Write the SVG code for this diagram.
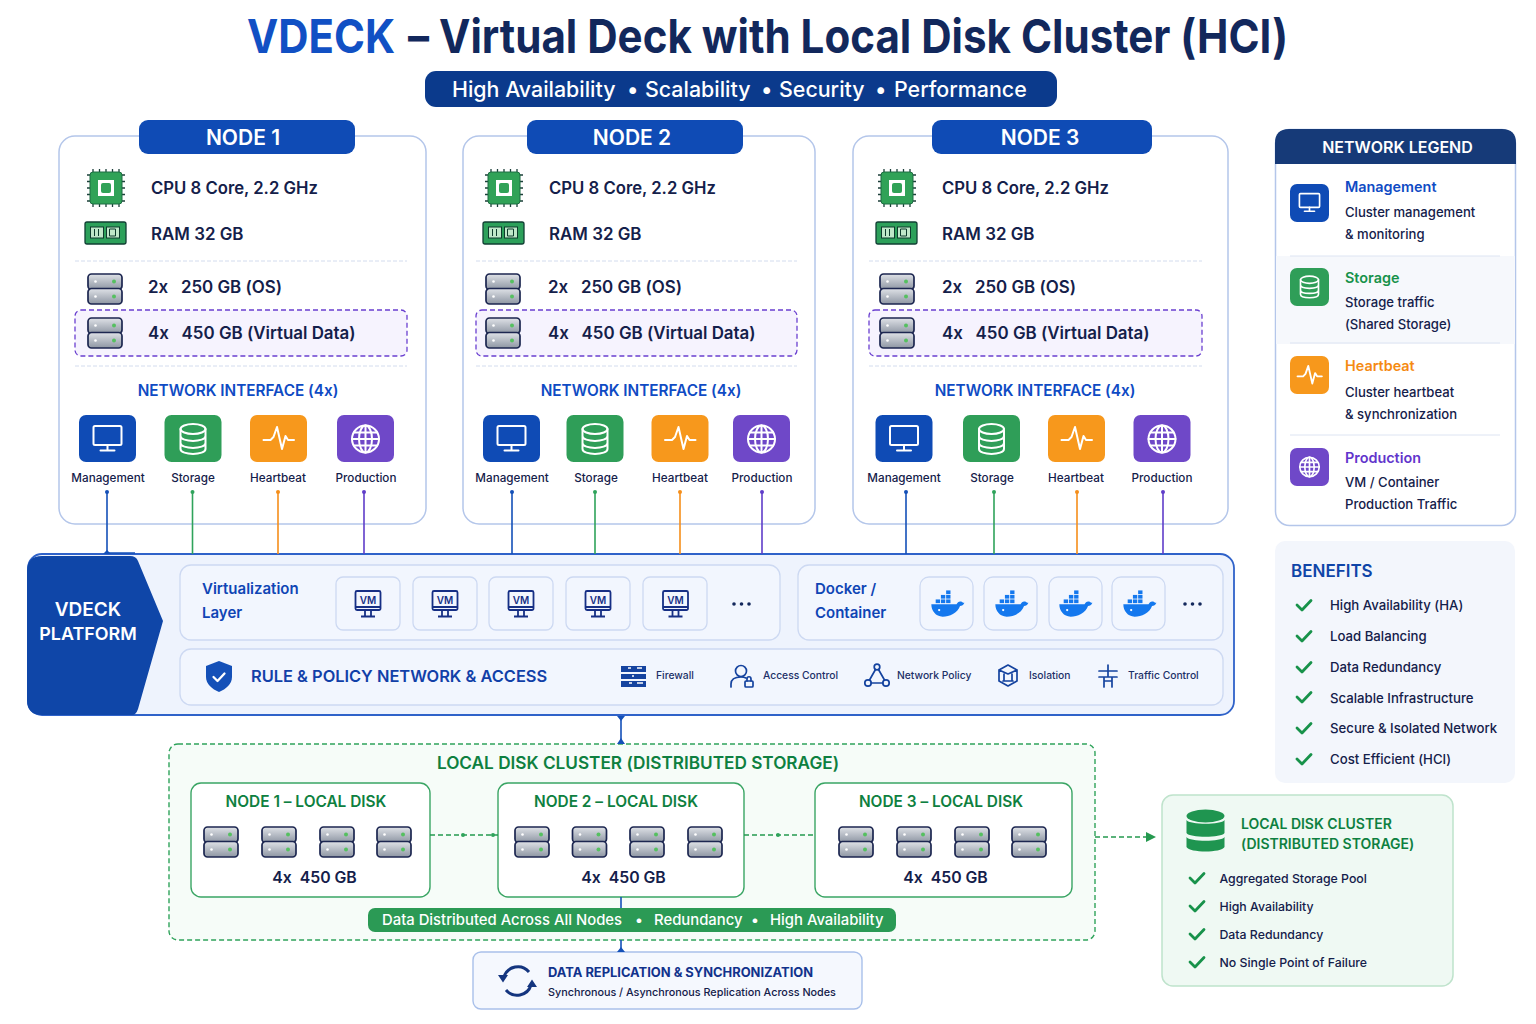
<svg xmlns="http://www.w3.org/2000/svg" width="1536" height="1024" viewBox="0 0 1536 1024">
<style>
text{font-family:Inter,"Liberation Sans",sans-serif;fill:#14204a;font-feature-settings:"calt" 0}
.card{fill:#fff;stroke:#b4c6ea;stroke-width:1.5}
.hd{fill:#0f4bb5}
.hdt{font-size:21px;font-weight:600;fill:#fff;text-anchor:middle}
.spec{font-size:16.700px;font-weight:600}
.spec2{font-size:16.900px;font-weight:600}
.sep{stroke:#d3dcee;stroke-width:1;stroke-dasharray:4 2}
.hl{fill:#f6f3fe;stroke:#6a3fd0;stroke-width:1.3;stroke-dasharray:5 3}
.ni{font-size:15.300px;font-weight:600;fill:#0f4bc4;text-anchor:middle}
.lab{font-size:11.700px;font-weight:500;text-anchor:middle}
.panel{fill:#f2f6fe;stroke:#cdd9f2;stroke-width:1.3}
.tile{fill:#f2f6fe;stroke:#cdd9f2;stroke-width:1.3}
.blue{font-size:15px;font-weight:600;fill:#0f45b5}
.pol{font-size:10.300px;font-weight:500;fill:#1c3068}
.dn{fill:#fff;stroke:#3aa564;stroke-width:1.4}
.dnt{font-size:15.400px;font-weight:600;fill:#0e8040;text-anchor:middle}
.cap{font-size:15.800px;font-weight:600;text-anchor:middle}
.lt{font-size:14.400px;font-weight:600}
.ld{font-size:13.100px;font-weight:500}
.ben{font-size:13.200px;font-weight:500}
.ben2{font-size:12.300px;font-weight:500}
.chk{fill:none;stroke:#17924a;stroke-width:2.800;stroke-linecap:round;stroke-linejoin:round}
.w{fill:none;stroke:#fff;stroke-linecap:round;stroke-linejoin:round}
.ic{fill:none;stroke:#15439f;stroke-width:1.700;stroke-linecap:round;stroke-linejoin:round}
.vm{fill:none;stroke:#162f85;stroke-width:1.800}
.sub{font-size:21.400px;font-weight:500;fill:#fff}
.band{font-size:14.850px;font-weight:500;fill:#fff}
</style>
<defs>
<g id="chip"><path d="M-13-19v38M-6.500-19v38M0-19v38M6.500-19v38M13-19v38M-19-13h38M-19-6.500h38M-19 0h38M-19 6.500h38M-19 13h38" stroke="#1c3f3a" stroke-width="1.300"/><rect x="-16" y="-16" width="32" height="32" rx="3" fill="#30a257" stroke="#1d6d42"/><rect x="-8" y="-8" width="16" height="16" fill="#fff"/><rect x="-5" y="-5" width="10" height="10" rx="2" fill="#30a257"/></g>
<g id="ram"><rect x="-20.500" y="-11" width="41" height="22" rx="2" fill="#2ca05a" stroke="#103f33" stroke-width="1.300"/><rect x="-15" y="-6" width="13" height="11" fill="#bfe8c9" stroke="#0d3b2c"/><rect x="1" y="-6" width="13" height="11" fill="#bfe8c9" stroke="#0d3b2c"/><path d="M-11-4v7M-7-4v7M4-4h6v7h-6z" stroke="#0d3b2c" fill="none"/></g>
<linearGradient id="dg" x1="0" y1="0" x2="0" y2="1"><stop offset="0" stop-color="#dfe2e7"/><stop offset="1" stop-color="#8e96a3"/></linearGradient>
<g id="disk"><rect x="-17" y="-15" width="34" height="15.500" rx="3.500" fill="url(#dg)" stroke="#1c2650" stroke-width="1.700"/><rect x="-17" y="-.500" width="34" height="15.500" rx="3.500" fill="url(#dg)" stroke="#1c2650" stroke-width="1.700"/><circle cx="-9.500" cy="-7.500" r="1.300" fill="#fff"/><circle cx="-9.500" cy="7.500" r="1.300" fill="#fff"/><circle cx="9" cy="-7.500" r="2" fill="#55c060"/><circle cx="9" cy="7.500" r="2" fill="#55c060"/></g>
<g id="mon"><rect x="-14" y="-13" width="28" height="19" rx="1.500" class="w"/><path d="M0 6v5M-7 11.500h14" class="w"/></g>
<g id="db"><ellipse cx="0" cy="-10" rx="12.500" ry="5" class="w"/><path d="M-12.500-10v20c0 6.500 25 6.500 25 0v-20M-12.500-3c0 6.500 25 6.500 25 0M-12.500 4c0 6.500 25 6.500 25 0" class="w"/></g>
<g id="pulse"><path d="M-15 1h7l3-3 3.500-10 5 22 3.500-13 2.500 4h6" class="w"/></g>
<g id="globe"><circle r="13.500" class="w"/><ellipse rx="6.500" ry="13.500" class="w"/><path d="M0-13.500v27M-13.500 0h27M-11.500-6.500h23M-11.500 6.500h23" class="w"/></g>
<g id="vm"><rect x="-12.500" y="-13" width="25" height="19" rx="1.500" class="vm" fill="#fff"/><path d="M-12.500 3h25M-3 6v6M3 6v6M-7 12.500h14" class="vm"/><text x="0" y="0" font-size="10" font-weight="600" text-anchor="middle" style="fill:#162f85">VM</text></g>
<g id="whale" fill="#1478ee" transform="scale(.87 .82)"><path d="M-18-2h29c1-3 3-4 5-3.500 2 .500 2 2 4 1.500-1 3-3 4-5 4C12 9 3 13-5 13c-8 0-13-7-13-15z"/><rect x="-13" y="-8" width="5" height="4.500"/><rect x="-7" y="-8" width="5" height="4.500"/><rect x="-1" y="-8" width="5" height="4.500"/><rect x="-7" y="-13.500" width="5" height="4.500"/><rect x="-1" y="-13.500" width="5" height="4.500"/><rect x="-1" y="-19" width="5" height="4.500"/><circle cx="-9" cy="5" r="1.300" fill="#fff"/></g>
<g id="check"><path d="M-7 0l5 5 9-9.500" class="chk"/></g>
<marker id="ta" viewBox="0 0 10 10" refX="8" refY="5" markerWidth="10" markerHeight="10" orient="auto" markerUnits="userSpaceOnUse"><path d="M0 0L10 5 0 10z" fill="#25994f"/></marker>
<g id="t-mgmt" stroke-width="2"><rect x="-28.500" y="-24" width="57" height="47" rx="7" fill="#0f4bb5"/><use href="#mon"/></g>
<g id="t-stor" stroke-width="2"><rect x="-28.500" y="-24" width="57" height="47" rx="7" fill="#2f9e58"/><use href="#db"/></g>
<g id="t-hb" stroke-width="2"><rect x="-28.500" y="-24" width="57" height="47" rx="7" fill="#f7981c"/><use href="#pulse"/></g>
<g id="t-prod" stroke-width="2"><rect x="-28.500" y="-24" width="57" height="47" rx="7" fill="#6f48c8"/><use href="#globe"/></g>
</defs>
<rect width="1536" height="1024" fill="#fff"/>

<g id="title">
<text x="247" y="53" font-size="47" font-weight="700" textLength="148" lengthAdjust="spacingAndGlyphs" style="fill:#1150c4">VDECK</text>
<text x="408" y="53" font-size="47" font-weight="700" textLength="880" lengthAdjust="spacingAndGlyphs" style="fill:#12285c">– Virtual Deck with Local Disk Cluster (HCI)</text>
<rect x="425" y="71" width="632" height="36" rx="11" fill="#0b3a8c"/>
<text class="sub" x="452" y="96.500">High Availability</text><text class="sub" x="627" y="96.500">•</text>
<text class="sub" x="645" y="96.500">Scalability</text><text class="sub" x="761" y="96.500">•</text>
<text class="sub" x="779" y="96.500">Security</text><text class="sub" x="875" y="96.500">•</text>
<text class="sub" x="894" y="96.500">Performance</text>
</g>

<g id="node1">
<rect class="card" x="59" y="136" width="367" height="388" rx="16"/>
<rect class="hd" x="139" y="120" width="216" height="34" rx="9"/><text class="hdt" x="243" y="145">NODE 1</text>
<use href="#chip" x="106" y="188"/><text class="spec" x="151" y="194">CPU 8 Core, 2.2 GHz</text>
<use href="#ram" x="105.500" y="233"/><text class="spec2" x="151" y="240">RAM 32 GB</text>
<path class="sep" d="M75 261H407M75 366H407"/>
<use href="#disk" x="105" y="289"/><text class="spec2" x="148" y="293" xml:space="preserve">2x   250 GB (OS)</text>
<rect class="hl" x="75" y="310" width="332" height="46" rx="6"/>
<use href="#disk" x="105" y="333"/><text class="spec2" x="148" y="339" xml:space="preserve">4x   450 GB (Virtual Data)</text>
<text class="ni" x="238" y="396">NETWORK INTERFACE (4x)</text>
<use href="#t-mgmt" x="107.500" y="439"/><use href="#t-stor" x="193" y="439"/><use href="#t-hb" x="278.500" y="439"/><use href="#t-prod" x="365.500" y="439"/>
<text class="lab" x="108" y="482">Management</text><text class="lab" x="193" y="482">Storage</text><text class="lab" x="278" y="482">Heartbeat</text><text class="lab" x="366" y="482">Production</text>
</g>
<g id="node2">
<rect class="card" x="463" y="136" width="352" height="388" rx="16"/>
<rect class="hd" x="527" y="120" width="216" height="34" rx="9"/><text class="hdt" x="632" y="145">NODE 2</text>
<use href="#chip" x="504" y="188"/><text class="spec" x="549" y="194">CPU 8 Core, 2.2 GHz</text>
<use href="#ram" x="503.500" y="233"/><text class="spec2" x="549" y="240">RAM 32 GB</text>
<path class="sep" d="M476 261H797M476 366H797"/>
<use href="#disk" x="503" y="289"/><text class="spec2" x="548" y="293" xml:space="preserve">2x   250 GB (OS)</text>
<rect class="hl" x="476" y="310" width="321" height="46" rx="6"/>
<use href="#disk" x="503" y="333"/><text class="spec2" x="548" y="339" xml:space="preserve">4x   450 GB (Virtual Data)</text>
<text class="ni" x="641" y="396">NETWORK INTERFACE (4x)</text>
<use href="#t-mgmt" x="511.500" y="439"/><use href="#t-stor" x="595" y="439"/><use href="#t-hb" x="680" y="439"/><use href="#t-prod" x="761.500" y="439"/>
<text class="lab" x="512" y="482">Management</text><text class="lab" x="596" y="482">Storage</text><text class="lab" x="680" y="482">Heartbeat</text><text class="lab" x="762" y="482">Production</text>
</g>
<g id="node3">
<rect class="card" x="853" y="136" width="375" height="388" rx="16"/>
<rect class="hd" x="932" y="120" width="220" height="34" rx="9"/><text class="hdt" x="1040" y="145">NODE 3</text>
<use href="#chip" x="897" y="188"/><text class="spec" x="942" y="194">CPU 8 Core, 2.2 GHz</text>
<use href="#ram" x="896.500" y="233"/><text class="spec2" x="942" y="240">RAM 32 GB</text>
<path class="sep" d="M869 261H1202M869 366H1202"/>
<use href="#disk" x="897" y="289"/><text class="spec2" x="942" y="293" xml:space="preserve">2x   250 GB (OS)</text>
<rect class="hl" x="869" y="310" width="333" height="46" rx="6"/>
<use href="#disk" x="897" y="333"/><text class="spec2" x="942" y="339" xml:space="preserve">4x   450 GB (Virtual Data)</text>
<text class="ni" x="1035" y="396">NETWORK INTERFACE (4x)</text>
<use href="#t-mgmt" x="904" y="439"/><use href="#t-stor" x="991.500" y="439"/><use href="#t-hb" x="1076.500" y="439"/><use href="#t-prod" x="1162" y="439"/>
<text class="lab" x="904" y="482">Management</text><text class="lab" x="992" y="482">Storage</text><text class="lab" x="1076" y="482">Heartbeat</text><text class="lab" x="1162" y="482">Production</text>
</g>

<g id="platform">
<rect x="28" y="554" width="1206" height="161" rx="14" fill="#eef3fd" stroke="#2f62c9" stroke-width="1.800"/>
<path d="M42 556H130q6 0 8 5L163 621 138 709q-2 6-6 6H42q-15 0-15-15V571q0-15 15-15z" fill="#0f46a8"/>
<text x="88" y="616" font-size="19" font-weight="600" text-anchor="middle" style="fill:#fff">VDECK</text>
<text x="88" y="640" font-size="17.900" font-weight="600" text-anchor="middle" style="fill:#fff">PLATFORM</text>
<rect class="panel" x="180" y="565" width="600" height="75" rx="11"/>
<text class="blue" x="202" y="594">Virtualization</text><text class="blue" x="202" y="618">Layer</text>
<rect class="tile" x="336" y="577" width="64" height="53" rx="7"/><rect class="tile" x="413" y="577" width="64" height="53" rx="7"/><rect class="tile" x="489" y="577" width="64" height="53" rx="7"/><rect class="tile" x="566" y="577" width="64" height="53" rx="7"/><rect class="tile" x="643" y="577" width="64" height="53" rx="7"/>
<use href="#vm" x="368" y="604"/><use href="#vm" x="445" y="604"/><use href="#vm" x="521" y="604"/><use href="#vm" x="598" y="604"/><use href="#vm" x="675.500" y="604"/>
<rect class="panel" x="798" y="565" width="425" height="75" rx="11"/>
<text class="blue" x="815" y="594">Docker /</text><text class="blue" x="815" y="618">Container</text>
<rect class="tile" x="920" y="577" width="53" height="53" rx="9"/><rect class="tile" x="984" y="577" width="53" height="53" rx="9"/><rect class="tile" x="1049" y="577" width="53" height="53" rx="9"/><rect class="tile" x="1112" y="577" width="53" height="53" rx="9"/>
<use href="#whale" x="947" y="606"/><use href="#whale" x="1011" y="606"/><use href="#whale" x="1075" y="606"/><use href="#whale" x="1139" y="606"/>
<g fill="#14285c"><circle cx="734" cy="604" r="1.800"/><circle cx="741.500" cy="604" r="1.800"/><circle cx="749" cy="604" r="1.800"/><circle cx="1185" cy="604" r="1.800"/><circle cx="1192.500" cy="604" r="1.800"/><circle cx="1200" cy="604" r="1.800"/></g>
<rect class="panel" x="180" y="649" width="1043" height="56" rx="11"/>
<path d="M219 661l13 5v11c0 7-6 12-13 15-7-3-13-8-13-15v-11z" fill="#1450b8"/><path d="M213.500 677l4 4 7-7.500" fill="none" stroke="#fff" stroke-width="2.300" stroke-linecap="round" stroke-linejoin="round"/>
<text x="251" y="682" font-size="16.400" font-weight="600" style="fill:#1140a8">RULE &amp; POLICY NETWORK &amp; ACCESS</text>
<g fill="#15439f"><rect x="621" y="666" width="25" height="6"/><rect x="621" y="674" width="25" height="5"/><rect x="621" y="681" width="25" height="6"/></g>
<path d="M628 668h3M637 668h5M632 676h2M629 683h3M637 683h6" stroke="#fff" stroke-width="1.500"/>
<text class="pol" x="656" y="679">Firewall</text>
<g class="ic"><circle cx="741" cy="671" r="5.500"/><path d="M731 687v-3c0-5 4-7 10-7 2 0 3 0 5 1"/><rect x="745" y="681" width="8" height="6" rx="1"/><path d="M747 681v-2c0-3 4-3 4 0v2"/></g>
<text class="pol" x="763" y="679">Access Control</text>
<g class="ic"><circle cx="877" cy="667" r="2.800"/><circle cx="868" cy="683" r="3.200"/><circle cx="886" cy="683" r="3.200"/><path d="M875.500 669.500l-6 10.500M878.500 669.500l6 10.500M871 683h12"/></g>
<text class="pol" x="897" y="679">Network Policy</text>
<g class="ic"><path d="M1008 665l9 5v11l-9 5-9-5v-11zM999 670l9 4 9-4M1004 674v7M1012 674v7M1003 681h10"/></g>
<text class="pol" x="1029" y="679">Isolation</text>
<g class="ic"><path d="M1108 665v11M1099 671h18M1099 677h18M1104 677v10M1112 677v10M1104 681h8"/></g>
<text class="pol" x="1128" y="679">Traffic Control</text>
</g>

<g id="cluster">
<rect x="169" y="744" width="926" height="196" rx="9" fill="#f6fcf8" stroke="#2fa35b" stroke-width="1.400" stroke-dasharray="5 3"/>
<text x="638" y="769" font-size="17.200" font-weight="600" text-anchor="middle" style="fill:#0e8040">LOCAL DISK CLUSTER (DISTRIBUTED STORAGE)</text>
</g>
<g id="disk-node1">
<rect class="dn" x="191" y="783" width="239" height="114" rx="10"/><text class="dnt" x="306" y="807">NODE 1 – LOCAL DISK</text>
<use href="#disk" x="221" y="842"/><use href="#disk" x="279" y="842"/><use href="#disk" x="337" y="842"/><use href="#disk" x="394" y="842"/>
<text class="cap" x="314.500" y="883" xml:space="preserve">4x  450 GB</text>
</g>
<g id="disk-node2">
<rect class="dn" x="498" y="783" width="246" height="114" rx="10"/><text class="dnt" x="616" y="807">NODE 2 – LOCAL DISK</text>
<use href="#disk" x="532" y="842"/><use href="#disk" x="589.500" y="842"/><use href="#disk" x="647" y="842"/><use href="#disk" x="705" y="842"/>
<text class="cap" x="623.500" y="883" xml:space="preserve">4x  450 GB</text>
</g>
<g id="disk-node3">
<rect class="dn" x="815" y="783" width="257" height="114" rx="10"/><text class="dnt" x="941" y="807">NODE 3 – LOCAL DISK</text>
<use href="#disk" x="856" y="842"/><use href="#disk" x="914" y="842"/><use href="#disk" x="972" y="842"/><use href="#disk" x="1029" y="842"/>
<text class="cap" x="945.500" y="883" xml:space="preserve">4x  450 GB</text>
</g>
<g id="cluster-band">
<rect x="368" y="908" width="528" height="24" rx="7" fill="#2b9a55"/>
<text class="band" x="382" y="925">Data Distributed Across All Nodes</text><text class="band" x="635" y="925">•</text>
<text class="band" x="654" y="925">Redundancy</text><text class="band" x="751" y="925">•</text>
<text class="band" x="770" y="925">High Availability</text>
</g>
<g id="replication">
<rect x="473" y="952" width="389" height="57" rx="8" fill="#f5f8fe" stroke="#a9c0ea" stroke-width="1.400"/>
<path d="M504 977A14.500 14.500 0 0 1 529 972M531 985A14.500 14.500 0 0 1 506 990" fill="none" stroke="#14357f" stroke-width="3"/>
<path d="M498 975h10l-5 7.500zM527 987h10l-5-7.500z" fill="#14357f"/>
<text x="548" y="977" font-size="12.900" font-weight="700" style="fill:#11328c">DATA REPLICATION &amp; SYNCHRONIZATION</text>
<text x="548" y="995.500" font-size="10.800" font-weight="500">Synchronous / Asynchronous Replication Across Nodes</text>
</g>

<g id="legend">
<rect class="card" x="1275.500" y="129.500" width="240" height="396" rx="14"/>
<rect x="1276" y="256" width="239" height="88" fill="#f6f8fc"/>
<path d="M1289 129H1502q14 0 14 14V164H1275V143q0-14 14-14z" fill="#163a78"/>
<text x="1397.500" y="153" font-size="16" font-weight="600" text-anchor="middle" style="fill:#fff">NETWORK LEGEND</text>
<path d="M1290 256H1500M1290 343H1500M1290 435H1500" stroke="#dde4f2"/>
<rect x="1290" y="184" width="39" height="38" rx="7" fill="#0f4bb5"/><g transform="translate(1309.500 203) scale(.72)" stroke-width="2.300"><use href="#mon"/></g>
<text class="lt" x="1345" y="192" style="fill:#0f4bc4">Management</text><text class="ld" x="1345" y="217">Cluster management</text><text class="ld" x="1345" y="239">&amp; monitoring</text>
<rect x="1290" y="268" width="39" height="38" rx="7" fill="#2f9e58"/><g transform="translate(1309.500 287) scale(.72)" stroke-width="2.300"><use href="#db"/></g>
<text class="lt" x="1345" y="283" style="fill:#17924a">Storage</text><text class="ld" x="1345" y="307">Storage traffic</text><text class="ld" x="1345" y="329">(Shared Storage)</text>
<rect x="1290" y="356" width="39" height="38" rx="7" fill="#f7981c"/><g transform="translate(1309.500 375.500) scale(.8)" stroke-width="2.300"><use href="#pulse"/></g>
<text class="lt" x="1345" y="371" style="fill:#f58a12">Heartbeat</text><text class="ld" x="1345" y="397">Cluster heartbeat</text><text class="ld" x="1345" y="419">&amp; synchronization</text>
<rect x="1290" y="448" width="39" height="38" rx="7" fill="#6f48c8"/><g transform="translate(1309.500 467) scale(.72)" stroke-width="2.300"><use href="#globe"/></g>
<text class="lt" x="1345" y="463" style="fill:#6235cc">Production</text><text class="ld" x="1345" y="487">VM / Container</text><text class="ld" x="1345" y="509">Production Traffic</text>
</g>

<g id="benefits">
<rect x="1275" y="541" width="240" height="242" rx="10" fill="#f3f6fc"/>
<text x="1291" y="577" font-size="17" font-weight="600" style="fill:#0f45a8">BENEFITS</text>
<use href="#check" x="1304" y="605"/><text class="ben" x="1330" y="609.500">High Availability (HA)</text>
<use href="#check" x="1304" y="636"/><text class="ben" x="1330" y="640.500">Load Balancing</text>
<use href="#check" x="1304" y="667"/><text class="ben" x="1330" y="671.500">Data Redundancy</text>
<use href="#check" x="1304" y="697"/><text class="ben" x="1330" y="702.500">Scalable Infrastructure</text>
<use href="#check" x="1304" y="728"/><text class="ben" x="1330" y="733">Secure &amp; Isolated Network</text>
<use href="#check" x="1304" y="759"/><text class="ben" x="1330" y="763.500">Cost Efficient (HCI)</text>
</g>

<g id="cluster-summary">
<rect x="1162" y="795" width="291" height="191" rx="11" fill="#eff9f3" stroke="#bfe3cc" stroke-width="1.500"/>
<g fill="#1f9550"><ellipse cx="1205.500" cy="816" rx="19" ry="6.500"/><path d="M1186.500 820c3 5 35 5 38 0v13c-3 5-35 5-38 0zM1186.500 837c3 5 35 5 38 0v10c-3 6-35 6-38 0z"/></g>
<text x="1241" y="829" font-size="14" font-weight="600" style="fill:#0e8040">LOCAL DISK CLUSTER</text>
<text x="1241" y="849" font-size="14" font-weight="600" style="fill:#0e8040">(DISTRIBUTED STORAGE)</text>
<use href="#check" x="1197" y="878"/><text class="ben2" x="1219.500" y="883">Aggregated Storage Pool</text>
<use href="#check" x="1197" y="906"/><text class="ben2" x="1219.500" y="911">High Availability</text>
<use href="#check" x="1197" y="934"/><text class="ben2" x="1219.500" y="939">Data Redundancy</text>
<use href="#check" x="1197" y="962"/><text class="ben2" x="1219.500" y="967">No Single Point of Failure</text>
</g>

<g id="connectors" fill="none" stroke-width="1.600">
<g stroke="#1450b8"><path d="M107 492V553H135"/><path d="M512 492V554"/><path d="M906 492V554"/></g>
<g stroke="#2fa35b"><path d="M192.500 492V554"/><path d="M595 492V554"/><path d="M994 492V554"/></g>
<g stroke="#f58e1a"><path d="M278 492V554"/><path d="M680 492V554"/><path d="M1077 492V554"/></g>
<g stroke="#5f3dc9"><path d="M364 492V554"/><path d="M762 492V554"/><path d="M1163 492V554"/></g>
<path d="M621 716V744M621 897V908M621 940V952" stroke="#1450b8"/>
<path d="M430 835H498M744 835H815" stroke="#25994f" stroke-dasharray="5 3"/>
<path d="M1095 837H1154" stroke="#25994f" stroke-dasharray="5 3" marker-end="url(#ta)"/>
<path d="M617 716h8l-4 5zM617 744h8l-4-6zM617 952h8l-4-5zM103 554h8l-4-4z" fill="#1450b8" stroke="none"/>
<g fill="#1450b8" stroke="none"><circle cx="107" cy="492" r="2"/><circle cx="512" cy="492" r="2"/><circle cx="906" cy="492" r="2"/></g>
<g fill="#2fa35b" stroke="none"><circle cx="192.500" cy="492" r="2"/><circle cx="595" cy="492" r="2"/><circle cx="994" cy="492" r="2"/><circle cx="463" cy="835" r="2"/><circle cx="493" cy="835" r="2"/><circle cx="778" cy="835" r="2"/></g>
<g fill="#f58e1a" stroke="none"><circle cx="278" cy="492" r="2"/><circle cx="680" cy="492" r="2"/><circle cx="1077" cy="492" r="2"/></g>
<g fill="#5f3dc9" stroke="none"><circle cx="364" cy="492" r="2"/><circle cx="762" cy="492" r="2"/><circle cx="1163" cy="492" r="2"/></g>
</g>
</svg>
